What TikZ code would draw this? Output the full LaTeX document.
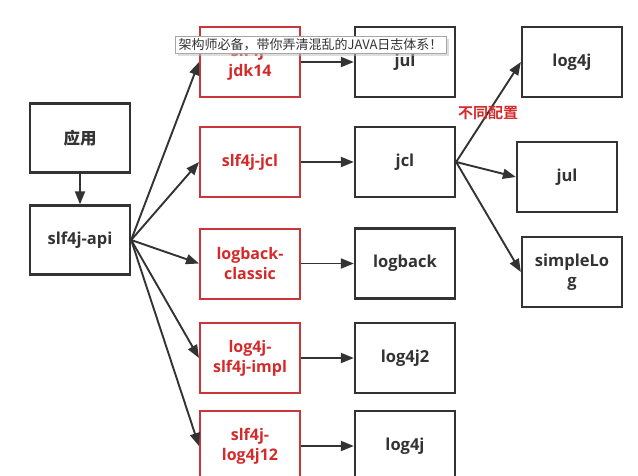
\documentclass[tikz,border=0pt]{standalone}
\usepackage{fontspec}
\setmainfont{Open Sans}
\newfontfamily\cjk{Noto Sans CJK SC}
\newfontfamily\cjkb{Noto Sans CJK SC Bold}
\usetikzlibrary{arrows.meta,shadows}
\definecolor{dk}{HTML}{333333}
\definecolor{rb}{HTML}{C8363A}
\definecolor{rt}{HTML}{D42A2A}
\tikzset{
  bbox/.style={draw=dk, line width=2.3pt, minimum width=100pt, minimum height=70pt, inner sep=0pt, align=center, text=dk, font=\fontsize{16.5}{19.5}\selectfont\bfseries},
  rbox/.style={draw=rb, line width=2pt, minimum width=100pt, minimum height=70pt, inner sep=0pt, align=center, text=rt, font=\fontsize{16}{20}\selectfont\bfseries},
  arr/.style={draw=dk, line width=1.9pt, -{Triangle[length=13pt,width=10pt]}},
}
\begin{document}
\begin{tikzpicture}[x=1pt,y=-1pt]
\useasboundingbox (0,0) rectangle (638,475);
\clip (0,0) rectangle (638,475);
\fill[white] (0,0) rectangle (638,475);
% left column
\node[bbox, minimum height=69pt] (app) at (80,138) {\cjkb 应用};
\node[bbox, minimum height=69pt] (api) at (80,240) {slf4j-api};
% red column
\node[rbox] (r1) at (250,62) {slf4j-\\jdk14};
\node[rbox] (r2) at (250,162) {slf4j-jcl};
\node[rbox] (r3) at (250,263.5) {logback-\\classic};
\node[rbox] (r4) at (250,358) {log4j-\\slf4j-impl};
\node[rbox] (r5) at (250,446) {slf4j-\\log4j12};
% black column
\node[bbox] (b1) at (405,62) {jul};
\node[bbox] (b2) at (405,162) {jcl};
\node[bbox] (b3) at (405,263.5) {logback};
\node[bbox] (b4) at (405,358) {log4j2};
\node[bbox] (b5) at (405,446) {log4j};
% right column
\node[bbox] (c1) at (572,62) {log4j};
\node[bbox] (c2) at (567,177) {jul};
\node[bbox] (c3) at (572,272) {simpleLo\\g};
% arrows
\draw[arr] (app) -- (api);
\foreach \r in {r1,r2,r3,r4,r5} \draw[arr] (api.east) -- (\r.west);
\draw[arr] (r1) -- (b1);
\draw[arr] (r2) -- (b2);
\draw[arr] (r3) -- (b3);
\draw[arr] (r4) -- (b4);
\draw[arr] (r5) -- (b5);
\foreach \c in {c1,c2,c3} \draw[arr] (b2.east) -- (\c.west);
\node[text=rt, font=\cjkb\fontsize{15}{16}\selectfont, inner sep=0pt] (cfg) at (488,113) {不同配置};
% tooltip
\node[draw=gray!70, fill=white, line width=0.9pt, minimum width=271pt, minimum height=17pt, inner sep=0pt, text=dk,
  font=\cjk\fontsize{13}{14}\selectfont, drop shadow={shadow xshift=2.5pt, shadow yshift=-2.5pt, fill=gray!50}] (tip) at (310.5,45) {架构师必备，带你弄清混乱的JAVA日志体系！};
\end{tikzpicture}
\end{document}
